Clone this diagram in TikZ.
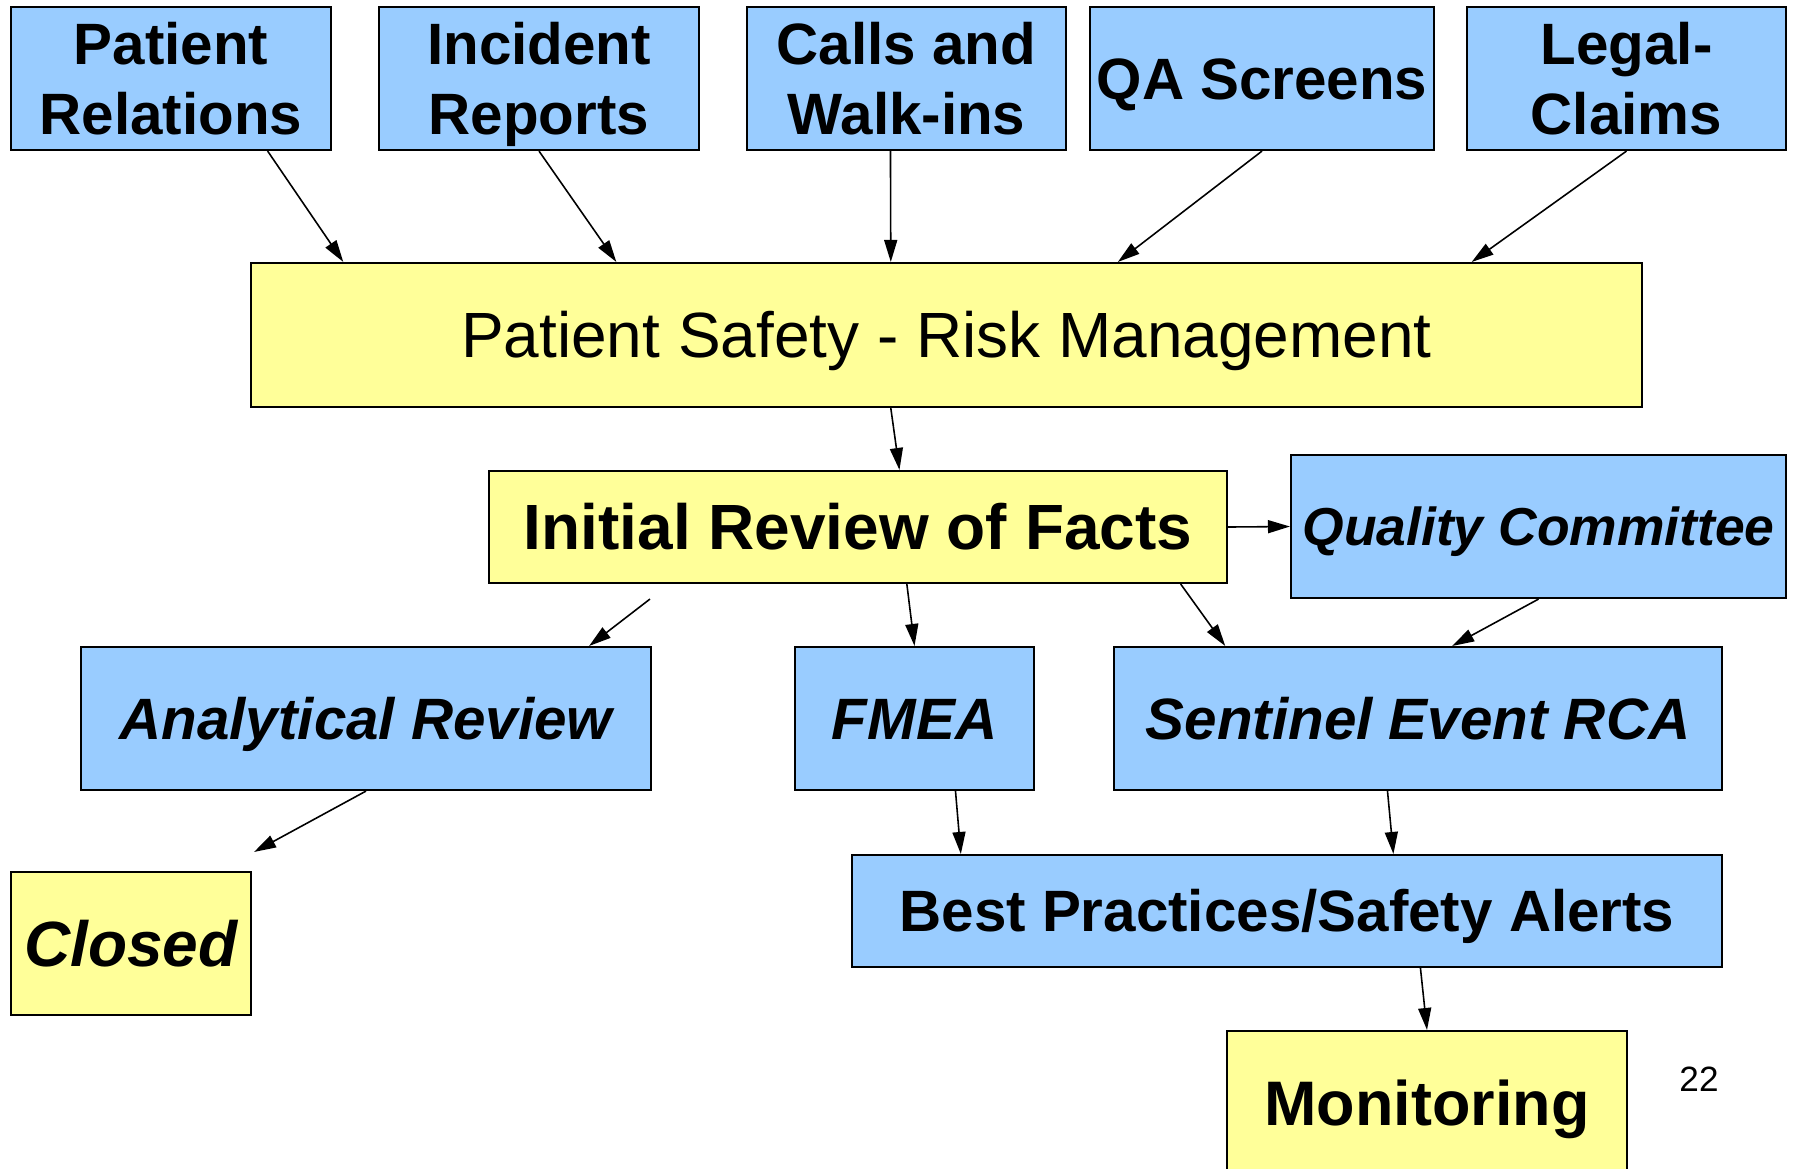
\documentclass[tikz,border=0pt]{standalone}
\usepackage{fontspec}
\setmainfont{Liberation Sans}
\usepackage{tikz}
\usetikzlibrary{positioning, arrows.meta, calc}

\definecolor{boxblue}{HTML}{99CCFF}
\definecolor{boxyellow}{HTML}{FFFF99}

\newcommand{\bigsize}{\fontsize{18.2}{21}\selectfont}
\newcommand{\midsize}{\fontsize{16.6}{20}\selectfont}

\tikzset{
  box/.style={draw, line width=0.6pt, inner sep=0pt, align=center, text depth=0pt},
  bluebox/.style={box, fill=boxblue},
  yellowbox/.style={box, fill=boxyellow},
  oneline/.style={text height=#1},
  flow/.style={line width=0.45pt, -{Triangle[length=2.2mm, width=1.3mm]}}
}

\begin{document}
\begin{tikzpicture}
    \useasboundingbox (0,0) rectangle (17.96,-11.68);
    \clip (0,0) rectangle (17.96,-11.68);

    % draw the sources along the top
    \node[bluebox, minimum width=3.2cm, minimum height=1.43cm, font=\bfseries\midsize] (patrel) at (1.71,-0.785) {Patient\\Relations};
    \node[bluebox, minimum width=3.2cm, minimum height=1.43cm, font=\bfseries\midsize] (increp) at (5.39,-0.785) {Incident\\Reports};
    \node[bluebox, minimum width=3.19cm, minimum height=1.43cm, font=\bfseries\midsize] (calls) at (9.065,-0.785) {Calls and\\Walk-ins};
    \node[bluebox, oneline=11.9pt, minimum width=3.44cm, minimum height=1.43cm, font=\bfseries\midsize] (qascr) at (12.62,-0.785) {QA Screens};
    \node[bluebox, minimum width=3.19cm, minimum height=1.43cm, font=\bfseries\midsize] (legal) at (16.265,-0.785) {Legal-\\Claims};

    % draw the risk management box
    \node[yellowbox, oneline=13pt, minimum width=13.91cm, minimum height=1.44cm, font=\bigsize] (psrm) at (9.465,-3.35) {Patient Safety - Risk Management};

    % draw the review and the committee
    \node[yellowbox, oneline=13pt, minimum width=7.38cm, minimum height=1.12cm, font=\bfseries\bigsize] (irf) at (8.58,-5.27) {Initial Review of Facts};
    \node[bluebox, oneline=10.9pt, minimum width=4.95cm, minimum height=1.43cm, font=\bfseries\itshape\fontsize{15.2}{18}\selectfont] (qc) at (15.385,-5.265) {Quality Committee};

    % draw the three kinds of analysis
    \node[bluebox, oneline=11.9pt, minimum width=5.7cm, minimum height=1.43cm, font=\bfseries\itshape\midsize] (anrev) at (3.66,-7.185) {Analytical Review};
    \node[bluebox, oneline=11.9pt, minimum width=2.39cm, minimum height=1.43cm, font=\bfseries\itshape\midsize] (fmea) at (9.145,-7.185) {FMEA};
    \node[bluebox, oneline=11.9pt, minimum width=6.08cm, minimum height=1.43cm, font=\bfseries\itshape\midsize] (ser) at (14.18,-7.185) {Sentinel Event RCA};

    % draw the outcomes
    \node[bluebox, oneline=11.9pt, minimum width=8.7cm, minimum height=1.12cm, font=\bfseries\midsize] (bpsa) at (12.87,-9.11) {Best Practices/Safety Alerts};
    \node[yellowbox, oneline=13pt, minimum width=2.4cm, minimum height=1.43cm, font=\bfseries\itshape\bigsize] (closed) at (1.31,-9.435) {Closed};
    \node[yellowbox, oneline=12.8pt, minimum width=4.0cm, minimum height=1.43cm, font=\bfseries\fontsize{17.9}{21}\selectfont] (monit) at (14.27,-11.025) {Monitoring};

    % draw the page number
    \node[font=\fontsize{10}{12}\selectfont] (pagenum) at (16.99,-10.79) {22};

    % draw the arrows into risk management
    \draw[flow] ($(patrel.south west)!.8!(patrel.south east)$) -- ($(psrm.north west)!.067!(psrm.north east)$);
    \draw[flow] (increp.south) -- ($(psrm.north west)!.263!(psrm.north east)$);
    \draw[flow] ($(calls.south west)!.45!(calls.south east)$) -- ($(psrm.north west)!.46!(psrm.north east)$);
    \draw[flow] (qascr.south) -- ($(psrm.north west)!.623!(psrm.north east)$);
    \draw[flow] (legal.south) -- ($(psrm.north west)!.877!(psrm.north east)$);

    % draw the arrows out of risk management
    \draw[flow] ($(psrm.south west)!.46!(psrm.south east)$) -- ($(irf.north west)!.556!(irf.north east)$);
    \draw[flow] (irf.east) -- (qc.west);
    \coordinate (arstart) at ($(irf.south west)+(1.62,-0.15)$);
    \draw[flow] (arstart) -- ($(anrev.north west)!.89!(anrev.north east)$);
    \draw[flow] ($(irf.south west)!.566!(irf.south east)$) -- (fmea.north);
    \draw[flow] ($(irf.south west)!.936!(irf.south east)$) -- ($(ser.north west)!.184!(ser.north east)$);
    \draw[flow] (qc.south) -- ($(ser.north west)!.556!(ser.north east)$);

    % draw the arrows to the outcomes
    \coordinate (closedtip) at ($(closed.north east)+(0.02,0.19)$);
    \draw[flow] (anrev.south) -- (closedtip);
    \draw[flow] ($(fmea.south west)!.67!(fmea.south east)$) -- ($(bpsa.north west)!.126!(bpsa.north east)$);
    \draw[flow] ($(ser.south west)!.45!(ser.south east)$) -- ($(bpsa.north west)!.622!(bpsa.north east)$);
    \draw[flow] ($(bpsa.south west)!.653!(bpsa.south east)$) -- (monit.north);

\end{tikzpicture}
\end{document}
